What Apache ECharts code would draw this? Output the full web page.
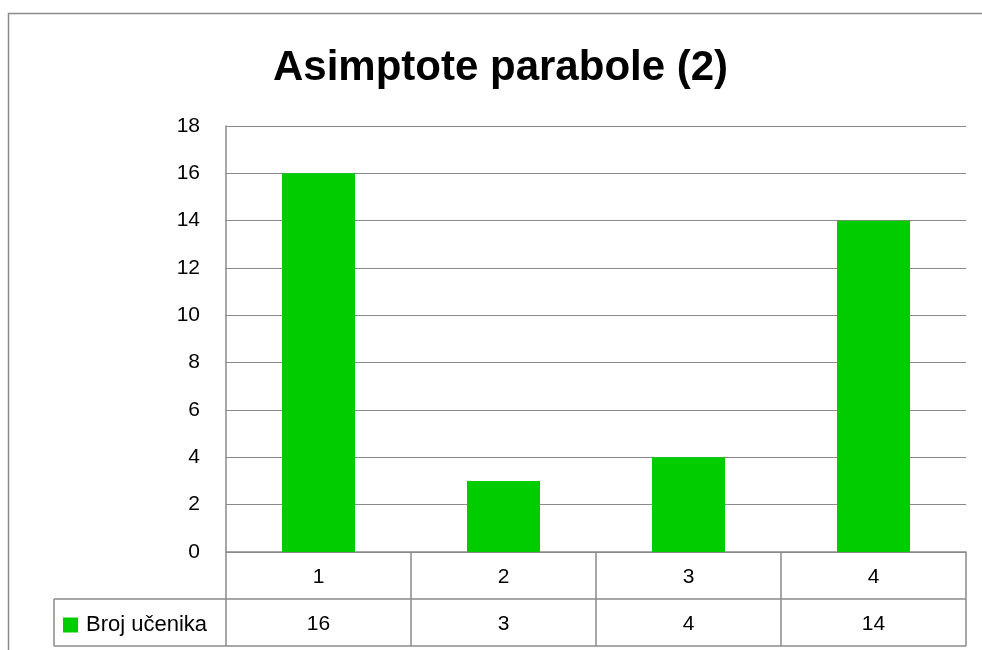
<!DOCTYPE html>
<html>
<head>
<meta charset="utf-8">
<title>Asimptote parabole (2)</title>
<script src="https://cdn.jsdelivr.net/npm/echarts@6/dist/echarts.min.js"></script>
<style>
	html,body{margin:0;padding:0;background:#fff;}
	#chart{width:982px;height:650px;}
</style>
</head>
<body>
<div id="chart"></div>
<script>
// podaci
var kategorije = ['1', '2', '3', '4'];
var brojUcenika = [16, 3, 4, 14];
var nazivSerije = 'Broj učenika';
var naslov = 'Asimptote parabole (2)';

var font = 'Liberation Sans, Arial, sans-serif';
var siva = '#8a8a8a';
var zelena = '#00cc00';

// plot area
var gL = 226, gT = 126, gR = 966, gB = 552;
var red = 47; // visina reda tablice

var myChart = echarts.init(document.getElementById('chart'));

var option = {
	animation: false,
	title: {
		text: naslov,
		left: 273,
		top: 47,
		padding: 0,
		textStyle: {fontFamily: font, fontSize: 42, fontWeight: 'bold', color: '#000'}
	},
	legend: {
		data: [nazivSerije],
		left: 63,
		top: 614,
		padding: 0,
		icon: 'rect',
		itemWidth: 15,
		itemHeight: 15,
		itemGap: 8,
		textStyle: {fontFamily: font, fontSize: 22, color: '#000', padding: [0, 0, 0, 3]}
	},
	grid: {left: gL, top: gT, width: gR - gL, height: gB - gT},
	xAxis: [{
		type: 'category',
		data: kategorije,
		axisLine: {lineStyle: {color: siva, width: 1.5}},
		axisTick: {show: true, length: red * 2, lineStyle: {color: siva, width: 1.5}},
		axisLabel: {margin: 15, fontFamily: font, fontSize: 21, color: '#000'}
	}, {
		type: 'category',
		position: 'bottom',
		offset: red,
		data: kategorije,
		axisLine: {show: false},
		axisTick: {show: false},
		axisLabel: {
			margin: 15, fontFamily: font, fontSize: 21, color: '#000',
			formatter: function(v, i){ return String(brojUcenika[i]); }
		}
	}],
	yAxis: {
		type: 'value',
		min: 0,
		max: 18,
		interval: 2,
		axisLine: {show: true, lineStyle: {color: siva, width: 1.5}},
		axisTick: {show: false},
		splitLine: {lineStyle: {color: siva, width: 1.2}},
		axisLabel: {margin: 26, fontFamily: font, fontSize: 21, color: '#000'}
	},
	series: [{
		name: nazivSerije,
		type: 'bar',
		data: brojUcenika,
		barWidth: 73,
		itemStyle: {color: zelena}
	}],
	graphic: [
		// okvir grafikona
		{type: 'rect', shape: {x: 8.5, y: 13.5, width: 1000, height: 700}, style: {fill: null, stroke: siva, lineWidth: 1.5}, silent: true},
		// linije tablice
		{type: 'line', shape: {x1: 54, y1: gB + red, x2: gR, y2: gB + red}, style: {stroke: siva, lineWidth: 1.5}, z: 10},
		{type: 'line', shape: {x1: 54, y1: gB + red * 2, x2: gR, y2: gB + red * 2}, style: {stroke: siva, lineWidth: 1.5}, z: 10},
		{type: 'line', shape: {x1: 54, y1: gB + red, x2: 54, y2: gB + red * 2}, style: {stroke: siva, lineWidth: 1.5}, z: 10}
	]
};

myChart.setOption(option);
</script>
</body>
</html>
